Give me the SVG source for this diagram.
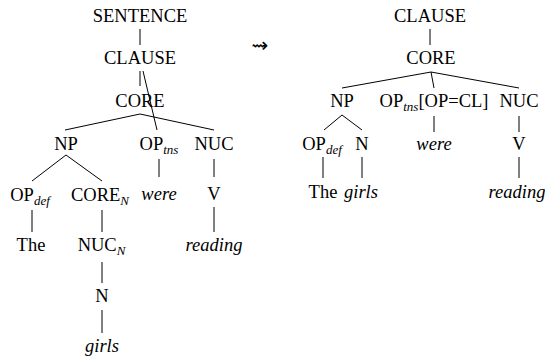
<svg xmlns="http://www.w3.org/2000/svg" width="545" height="360" viewBox="0 0 545 360">
<style>
.t{font-family:"Liberation Serif","Times New Roman",Times,serif;font-size:18.5px;fill:#000;text-anchor:middle}
.i{font-style:italic}
.sub{font-size:13px;font-style:italic}
.e line{stroke:#000;stroke-width:1}
.sym{font-family:"DejaVu Sans",sans-serif;font-size:20px;fill:#000;text-anchor:middle}
</style>
<rect width="545" height="360" fill="#fff"/>
<g class="e" id="connectors">
<line x1="140" y1="29" x2="140" y2="45"/>
<line x1="140" y1="71" x2="140" y2="86"/>
<line x1="143" y1="71" x2="157" y2="130"/>
<line x1="140" y1="114" x2="65" y2="130"/>
<line x1="140" y1="114" x2="214" y2="130"/>
<line x1="66" y1="155" x2="32" y2="181"/>
<line x1="66" y1="155" x2="102" y2="181"/>
<line x1="159" y1="159" x2="159" y2="177"/>
<line x1="214" y1="159" x2="214" y2="177"/>
<line x1="32" y1="210" x2="32" y2="232"/>
<line x1="102" y1="210" x2="102" y2="232"/>
<line x1="214" y1="207" x2="214" y2="232"/>
<line x1="102" y1="262" x2="102" y2="283"/>
<line x1="102" y1="310" x2="102" y2="333"/>
<line x1="430" y1="29" x2="430" y2="45"/>
<line x1="431" y1="72" x2="342" y2="88"/>
<line x1="431" y1="72" x2="434" y2="88"/>
<line x1="431" y1="72" x2="519" y2="88"/>
<line x1="434" y1="116" x2="434" y2="132"/>
<line x1="519" y1="116" x2="519" y2="132"/>
<line x1="342" y1="115" x2="324" y2="130"/>
<line x1="342" y1="115" x2="362" y2="130"/>
<line x1="323" y1="157" x2="323" y2="178"/>
<line x1="362" y1="157" x2="362" y2="178"/>
<line x1="519" y1="157" x2="519" y2="178"/>
</g>
<g id="L-sentence"><text class="t" x="140" y="22">SENTENCE</text></g>
<g id="L-clause"><text class="t" x="140" y="64">CLAUSE</text></g>
<g id="L-core"><text class="t" x="140" y="107">CORE</text></g>
<g id="L-np"><text class="t" x="66" y="150">NP</text></g>
<g id="L-optns"><text class="t" x="159" y="150">OP<tspan class="sub" dy="4">tns</tspan></text></g>
<g id="L-nuc"><text class="t" x="214" y="150">NUC</text></g>
<g id="L-opdef"><text class="t" x="30" y="201">OP<tspan class="sub" dy="4">def</tspan></text></g>
<g id="L-coren"><text class="t" x="100" y="201">CORE<tspan class="sub" dy="4">N</tspan></text></g>
<g id="L-were"><text class="t i" x="159" y="200">were</text></g>
<g id="L-v"><text class="t" x="214" y="200">V</text></g>
<g id="L-the"><text class="t" x="31" y="251">The</text></g>
<g id="L-nucn"><text class="t" x="101.5" y="251">NUC<tspan class="sub" dy="4">N</tspan></text></g>
<g id="L-reading"><text class="t i" x="214" y="251">reading</text></g>
<g id="L-n"><text class="t" x="102" y="302">N</text></g>
<g id="L-girls"><text class="t i" x="102" y="352">girls</text></g>
<g id="leadsto"><text class="sym" x="260" y="52">⇝</text></g>
<g id="R-clause"><text class="t" x="430" y="22">CLAUSE</text></g>
<g id="R-core"><text class="t" x="431" y="64">CORE</text></g>
<g id="R-np"><text class="t" x="342" y="107">NP</text></g>
<g id="R-op"><text class="t" x="434" y="107">OP<tspan class="sub" dy="4">tns</tspan><tspan dy="-4">[OP=CL]</tspan></text></g>
<g id="R-nuc"><text class="t" x="519" y="107">NUC</text></g>
<g id="R-opdef"><text class="t" x="322" y="150">OP<tspan class="sub" dy="4">def</tspan></text></g>
<g id="R-n"><text class="t" x="362" y="150">N</text></g>
<g id="R-were"><text class="t i" x="434" y="150">were</text></g>
<g id="R-v"><text class="t" x="519" y="150">V</text></g>
<g id="R-the"><text class="t" x="323" y="198">The</text></g>
<g id="R-girls"><text class="t i" x="361" y="198">girls</text></g>
<g id="R-reading"><text class="t i" x="517" y="198">reading</text></g>
</svg>
